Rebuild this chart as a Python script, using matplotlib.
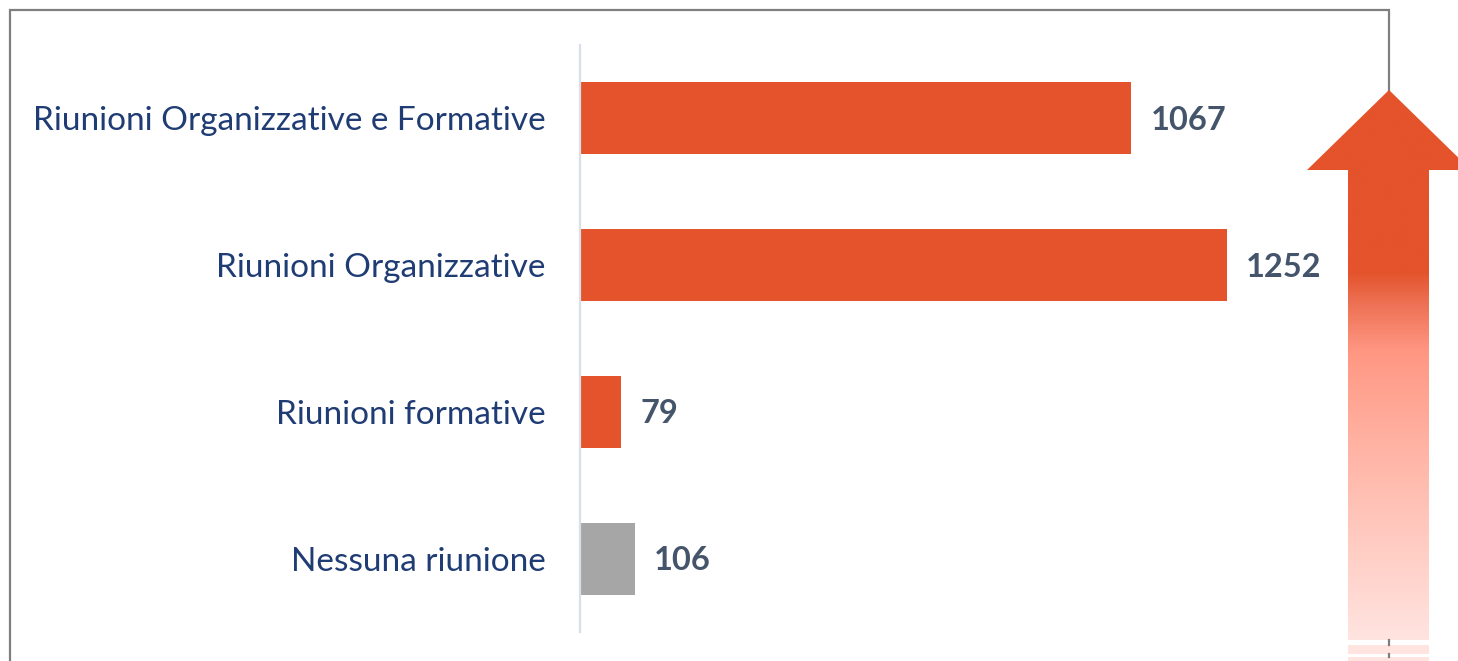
import numpy as np
import matplotlib
matplotlib.use('Agg')
import matplotlib.pyplot as plt
from matplotlib.patches import Polygon, Rectangle

categories = ['Riunioni Organizzative e Formative', 'Riunioni Organizzative',
              'Riunioni formative', 'Nessuna riunione']
values = [1067, 1252, 79, 106]
bar_colors = ['#E4532B', '#E4532B', '#E4532B', '#A6A6A6']

W, H = 1458, 661
fig = plt.figure(figsize=(W / 100, H / 100), dpi=100)
fig.patch.set_facecolor('white')

# pannello di sfondo in pixel (cornice + freccia)
bg = fig.add_axes([0, 0, 1, 1])
bg.set_xlim(0, W)
bg.set_ylim(H, 0)
bg.axis('off')

frame_col = '#7F7F7F'
bg.plot([10, 10, 1389, 1389], [H, 10, 10, H], color=frame_col, lw=1.6, zorder=1,
        solid_joinstyle='miter')

# freccia con sfumatura
arrow_pts = [(1389, 90), (1307, 170), (1348, 170), (1348, H), (1429, H),
             (1429, 170), (1471, 170)]
arrow = Polygon(arrow_pts, closed=True, facecolor='none', edgecolor='none')
bg.add_patch(arrow)
ys = np.linspace(90, H, 400)
stops_y = [90, 272, 300, 350, 450, 640]
stops_c = np.array([[228, 83, 43], [228, 83, 43], [236, 110, 80],
                    [255, 150, 130], [255, 180, 165], [255, 228, 224]]) / 255
grad = np.stack([np.interp(ys, stops_y, stops_c[:, k]) for k in range(3)], axis=1)
img = bg.imshow(grad[:, None, :], extent=[1300, 1475, H, 90], aspect='auto',
                zorder=2, interpolation='bilinear')
img.set_clip_path(arrow)
bg.set_xlim(0, W)
bg.set_ylim(H, 0)
for y0, h in [(640, 5), (654, 3)]:
    bg.add_patch(Rectangle((1340, y0), 100, h, facecolor='white', edgecolor='none', zorder=3))
    bg.plot([1389, 1389], [y0, y0 + h], color=frame_col, lw=1.6, zorder=4)

# grafico a barre
ax = fig.add_axes([580 / W, (H - 632) / H, 720 / W, 587 / H])
ax.patch.set_alpha(0)
y = np.arange(len(categories))
ax.barh(y, values, height=0.49, color=bar_colors)
ax.set_ylim(3.5, -0.5)
ax.set_xlim(0, 720 / 0.5164)

for sp in ['top', 'right', 'bottom']:
    ax.spines[sp].set_visible(False)
ax.spines['left'].set_color('#D9DEE8')
ax.spines['left'].set_linewidth(1.6)
ax.set_xticks([])
ax.set_yticks(y)
ax.set_yticklabels(categories, fontsize=24, color='#1F3C74', family='Lato')
ax.tick_params(axis='y', length=0, pad=25)

for yi, v in zip(y, values):
    ax.annotate(str(v), xy=(v, yi), xytext=(14, -1.5), textcoords='offset points',
                va='center', ha='left', fontsize=23.5, fontweight='bold',
                color='#44546A', family='Lato')

fig.savefig('out.png', dpi=100)
